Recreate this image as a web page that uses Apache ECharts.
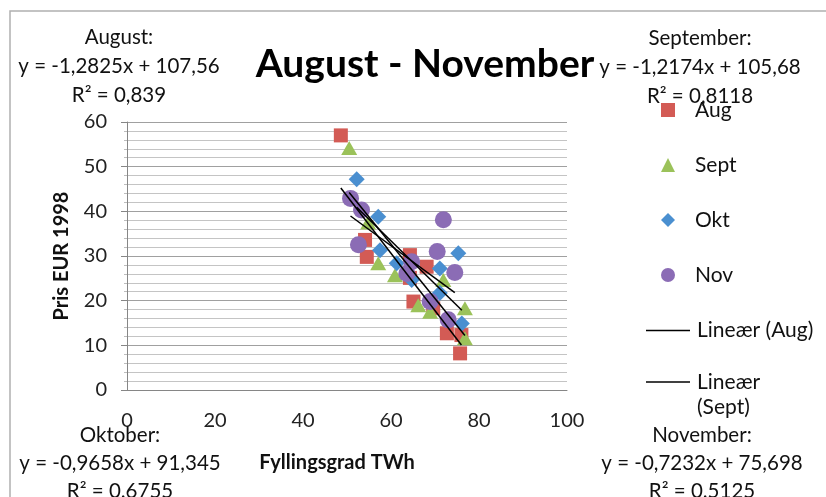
<!DOCTYPE html>
<html>
<head>
<meta charset="utf-8">
<script src="https://cdn.jsdelivr.net/npm/echarts@6/dist/echarts.min.js"></script>
<style>
  html, body { margin: 0; padding: 0; background: #fff; }
  #chart { width: 826px; height: 497px; }
</style>
</head>
<body>
<div id="chart"></div>
<script>
// scatter data: [fyllingsgrad, pris]
const augX = [48.6, 54.1, 54.5, 64.3, 64.3, 68.1, 65.1, 69.6, 72.7, 76.0, 75.7];
const augY = [57.0, 33.6, 29.8, 30.2, 25.1, 27.6, 19.8, 18.3, 12.7, 12.3, 8.2];
const septX = [50.5, 54.8, 57.1, 60.9, 66.2, 68.9, 71.9, 76.8, 76.8];
const septY = [54.2, 37.5, 28.4, 25.7, 19.0, 17.5, 24.6, 18.3, 11.6];
const oktX = [52.2, 57.1, 57.5, 61.3, 64.7, 71.1, 75.3, 71.1, 76.1];
const oktY = [47.2, 38.8, 31.3, 28.4, 24.6, 27.2, 30.6, 21.7, 14.9];
const novX = [50.8, 53.3, 52.6, 63.6, 64.7, 68.9, 70.5, 71.9, 74.5, 73.0];
const novY = [42.9, 40.3, 32.5, 26.1, 28.7, 19.8, 31.0, 38.1, 26.3, 15.7];

// trendline coefficients as printed on the chart
const seriesNames = ['Aug', 'Sept', 'Okt', 'Nov'];
const slopes = [-1.2825, -1.2174, -0.9658, -0.7232];
const intercepts = [107.56, 105.68, 91.345, 75.698];
const eqLabels = [
  ['August:', 'y = -1,2825x + 107,56', 'R² = 0,839'],
  ['September:', 'y = -1,2174x + 105,68', 'R² = 0,8118'],
  ['Oktober:', 'y = -0,9658x + 91,345', 'R² = 0.6755'],
  ['November:', 'y = -0,7232x + 75,698', 'R² = 0.5125']
];

const xTicks = [0, 20, 40, 60, 80, 100];
const yTicks = [0, 10, 20, 30, 40, 50, 60];

const colors = ['#d35b55', '#9bc25a', '#4a8fd0', '#8b6cb5'];
const symbols = ['rect', 'triangle', 'diamond', 'circle'];
const sizes = [14, [16, 14], 16, 17];
const FONT = 'Lato';

const xs = [augX, septX, oktX, novX];
const ys = [augY, septY, oktY, novY];

const scatter = seriesNames.map((name, i) => ({
  name,
  type: 'scatter',
  symbol: symbols[i],
  symbolSize: sizes[i],
  itemStyle: { color: colors[i], opacity: 1 },
  data: xs[i].map((x, j) => [x, ys[i][j]]),
  z: 2 + i
}));

const trend = seriesNames.map((name, i) => {
  const lo = Math.min(...xs[i]);
  const hi = Math.max(...xs[i]);
  return {
    name: 'Lineær (' + name + ')',
    type: 'line',
    symbol: 'none',
    lineStyle: { color: '#000', width: 1.5 },
    itemStyle: { color: '#000' },
    data: [[lo, slopes[i] * lo + intercepts[i]], [hi, slopes[i] * hi + intercepts[i]]],
    z: 10
  };
});

function eqBlock(lines, cx, top, step) {
  return lines.map((t, k) => ({
    type: 'text',
    x: cx,
    y: top + k * step,
    style: {
      text: t,
      align: 'center',
      verticalAlign: 'middle',
      font: '20.5px ' + FONT,
      fill: '#111'
    },
    z: 20
  }));
}

const chart = echarts.init(document.getElementById('chart'));

chart.setOption({
  animation: false,
  textStyle: { fontFamily: FONT },
  grid: { left: 127, right: 259, top: 122, bottom: 107 },
  legend: [
    {
      orient: 'vertical',
      left: 661,
      top: 98,
      padding: 0,
      itemWidth: 14,
      itemHeight: 14,
      itemGap: 31,
      data: ['Aug', 'Sept', 'Okt', 'Nov'],
      textStyle: { fontSize: 21, lineHeight: 24, color: '#111', fontFamily: FONT, padding: [0, 0, 0, 15] }
    },
    {
      orient: 'vertical',
      left: 646,
      top: 318,
      padding: 0,
      itemWidth: 44,
      itemHeight: 1.5,
      itemGap: 1.5,
      icon: 'rect',
      itemStyle: { color: '#000' },
      data: ['Lineær (Aug)', 'Lineær (Sept)'],
      // blank first line keeps the icon level with "Lineær", as in the original wrap
      formatter: (n) => n === 'Lineær (Sept)' ? ' \nLineær\n(Sept)' : n,
      textStyle: { fontSize: 21, lineHeight: 25, color: '#111', fontFamily: FONT, padding: [0, 0, 0, 2] }
    }
  ],
  xAxis: {
    type: 'value',
    min: xTicks[0],
    max: xTicks[xTicks.length - 1],
    interval: 20,
    name: 'Fyllingsgrad TWh',
    nameLocation: 'middle',
    nameGap: 63,
    nameTextStyle: { fontSize: 20, fontWeight: 'bold', color: '#111', padding: [0, 20, 0, 0] },
    axisLine: { show: true, onZero: false, lineStyle: { color: '#868686' } },
    axisTick: { show: false },
    splitLine: { show: false },
    axisLabel: { margin: 21, fontSize: 20, color: '#222' }
  },
  yAxis: {
    type: 'value',
    min: yTicks[0],
    max: yTicks[yTicks.length - 1],
    interval: 10,
    name: 'Pris EUR 1998',
    nameLocation: 'middle',
    nameGap: 55,
    nameTextStyle: { fontSize: 20, fontWeight: 'bold', color: '#111' },
    axisLine: { show: true, lineStyle: { color: '#868686' } },
    axisTick: { show: true, length: 6, lineStyle: { color: '#868686' } },
    minorTick: { show: true, splitNumber: 5, length: 3, lineStyle: { color: '#bdbdbd' } },
    splitLine: { show: true, lineStyle: { color: '#a0a0a0', width: 1 } },
    minorSplitLine: { show: true, lineStyle: { color: '#c4c4c4', width: 1 } },
    axisLabel: { margin: 20, fontSize: 20, color: '#222' }
  },
  graphic: [
    {
      type: 'rect',
      silent: true,
      shape: { x: 10, y: 11, width: 900, height: 600 },
      style: { fill: 'none', stroke: '#b0b0b0', lineWidth: 1.5 },
      z: -1
    },
    {
      type: 'text',
      x: 425,
      y: 64,
      style: {
        text: 'August - November',
        align: 'center',
        verticalAlign: 'middle',
        font: 'bold 39px ' + FONT,
        fill: '#000'
      },
      z: 20
    }
  ]
    .concat(eqBlock(eqLabels[0], 119, 37, 29))
    .concat(eqBlock(eqLabels[1], 700, 38, 29))
    .concat(eqBlock(eqLabels[2], 120, 435, 28))
    .concat(eqBlock(eqLabels[3], 702, 435, 28)),
  series: scatter.concat(trend)
});
</script>
</body>
</html>
